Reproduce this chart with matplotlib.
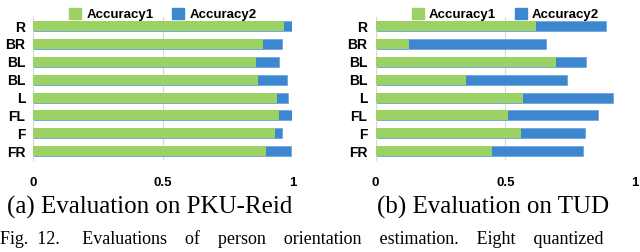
import numpy as np
import matplotlib
matplotlib.use("Agg")
import matplotlib.pyplot as plt
from matplotlib.patches import Patch

categorias = ["R", "BR", "BL", "BL", "L", "FL", "F", "FR"]

# PKU-Reid
pku_acc1 = [0.967, 0.886, 0.859, 0.868, 0.940, 0.949, 0.931, 0.896]
pku_acc2 = [1.000, 0.959, 0.949, 0.977, 0.983, 1.000, 0.959, 0.994]

# TUD
tud_acc1 = [0.617, 0.128, 0.694, 0.348, 0.567, 0.511, 0.561, 0.448]
tud_acc2 = [0.886, 0.656, 0.809, 0.737, 0.914, 0.855, 0.805, 0.798]

ticks = [0, 0.5, 1]
tick_labels = ["0", "0.5", "1"]

verde = "#9CD263"
azul = "#3C87CF"
sans = ["Liberation Sans", "DejaVu Sans"]
serif = ["Liberation Serif", "DejaVu Serif"]


def desenhar(ax, acc1, acc2):
    y = np.arange(len(categorias))
    ax.barh(y, acc2, height=0.56, color=azul, edgecolor="#6FA8DC", linewidth=0.6, zorder=2)
    ax.barh(y, acc1, height=0.56, color=verde, zorder=3)
    ax.set_ylim(len(categorias) - 0.5, -0.5)
    ax.set_xlim(0, 1)
    ax.set_yticks(y)
    ax.set_yticklabels(categorias, fontfamily=sans, fontweight="bold", fontsize=10)
    ax.set_xticks(ticks)
    ax.set_xticklabels(tick_labels, fontfamily=sans, fontweight="bold", fontsize=9.5)
    ax.tick_params(length=0, axis="y", pad=6)
    ax.tick_params(length=0, axis="x", pad=12)
    ax.grid(axis="x", color="#D9D9D9", linewidth=0.8, zorder=0)
    for s in ["top", "right", "bottom"]:
        ax.spines[s].set_visible(False)
    ax.spines["left"].set_color("#D9D9D9")
    handles = [Patch(color=verde, label="Accuracy1"), Patch(color=azul, label="Accuracy2")]
    ax.legend(handles=handles, loc="lower center", bbox_to_anchor=(0.5, 0.97), ncol=2,
              frameon=False, prop={"family": sans, "weight": "bold", "size": 9.5},
              handlelength=0.9, handleheight=0.9, handletextpad=0.4, columnspacing=1.4,
              borderpad=0, borderaxespad=0)


fig = plt.figure(figsize=(6.4, 2.52), dpi=100)
ax1 = fig.add_axes([0.0523, 0.365, 0.4047, 0.567])
ax2 = fig.add_axes([0.587, 0.365, 0.4056, 0.567])
desenhar(ax1, pku_acc1, pku_acc2)
desenhar(ax2, tud_acc1, tud_acc2)

fig.text(0.234, 0.175, "(a) Evaluation on PKU-Reid", ha="center", va="center",
         fontfamily=serif, fontsize=18)
fig.text(0.77, 0.175, "(b) Evaluation on TUD", ha="center", va="center",
         fontfamily=serif, fontsize=18)
fig.text(0.0, 0.085, "Fig.  12.     Evaluations    of    person    orientation    estimation.    Eight    quantized",
         ha="left", va="top", fontfamily=serif, fontsize=13)

plt.savefig("out.png", dpi=100)
